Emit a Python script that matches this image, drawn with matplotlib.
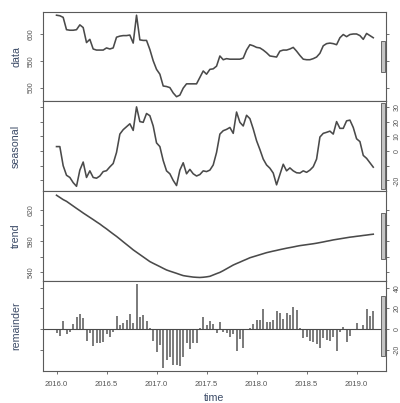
import numpy as np
import matplotlib
matplotlib.use("Agg")
import matplotlib.pyplot as plt
from matplotlib.patches import Rectangle

plt.rcParams['font.family'] = ['Liberation Sans', 'DejaVu Sans']

# ---- data (frequency 30 per year, start 2016.0) ----
start_year = 2016.0
freq = 30

data_vals = [635, 634, 631, 608, 607, 607, 608, 617, 612, 584,
             590, 572, 570, 570, 570, 574, 572, 574, 594, 596,
             597, 597, 598, 583, 635, 589, 588, 588, 571, 550,
             534, 525, 503, 502, 500, 490, 483, 486, 499, 507,
             507, 507, 507, 519, 531, 525, 534, 535, 540, 559,
             552, 554, 553, 553, 553, 553, 555, 570, 580, 578,
             575, 574, 570, 565, 559, 558, 557, 568, 570, 570,
             572, 575, 568, 560, 553, 552, 552, 554, 557, 564,
             578, 582, 583, 582, 580, 593, 599, 595, 599, 600,
             600, 597, 590, 601, 597, 593]

seasonal_vals = [3, 3, -10, -16.5, -18, -21.5, -24, -13, -7.5, -18,
                 -13.5, -18, -18.5, -17, -14, -13.4, -10.8, -8.5, -1, 11.5,
                 14.5, 16.5, 18.5, 14, 30, 20, 19.5, 25.5, 24, 17,
                 5.5, 3, -6.5, -13.5, -15.5, -20, -23.5, -13, -8, -15.5,
                 -12.5, -15.5, -17, -16, -13.5, -14, -13, -9.5, -1, 11.5,
                 13.8, 14.7, 16, 12, 26.5, 19.5, 17, 24.3, 22, 15,
                 7, 1, -5.5, -9.5, -11.7, -15, -23, -16, -9, -13.5,
                 -11.5, -13.5, -14.8, -15, -13.5, -14.5, -13, -10.7, -5.5, 9.5,
                 12, 12.7, 13.5, 11.5, 20, 15.4, 15.4, 20.5, 21, 16,
                 8.3, 6.4, -3, -5, -8, -11]

trend_vals = [638.6, 635.8, 633.0, 630.8, 627.8, 624.8, 621.8, 618.9, 615.9, 613.1,
              610.3, 607.5, 604.6, 601.8, 598.6, 595.6, 592.3, 589.1, 586.0, 582.6,
              579.1, 575.7, 572.3, 568.8, 565.8, 562.8, 559.8, 556.8, 553.8, 551.6,
              549.5, 547.4, 545.2, 543.1, 541.6, 540.2, 538.8, 537.3, 535.9, 535.2,
              534.6, 534.0, 533.7, 533.5, 533.8, 534.3, 535.0, 536.7, 538.4, 540.0,
              542.2, 544.6, 547.0, 549.4, 551.3, 553.1, 555.0, 556.8, 558.7, 560.0,
              561.3, 562.6, 563.9, 565.2, 566.2, 567.2, 568.1, 569.1, 570.0, 570.9,
              571.7, 572.5, 573.4, 574.2, 574.8, 575.4, 576.0, 576.6, 577.3, 578.1,
              578.9, 579.8, 580.6, 581.5, 582.2, 582.9, 583.6, 584.3, 585.0, 585.5,
              586.1, 586.6, 587.2, 587.7, 588.3, 588.8]

remainder_vals = [-4, -7, 8, -5, -3, 4.7, 11.3, 14.3, 10.8, -12,
                  -4, -17, -14, -14, -12.3, -4.5, -7.5, -3, 12.2, 4.1,
                  5.7, 8.5, 14.5, 5.7, 43.5, 11.3, 14, 7.6, 0.5, -12,
                  -22, -15.5, -37.5, -30, -27, -35, -35, -36, -27, -14,
                  -19, -14, -14, 1, 12, 3.5, 8, 5.2, -4.3, 7,
                  -3, -4, -7.8, -4.5, -21, -10, -18.5, -1, 1, 4.8,
                  9.2, 9.2, 19.7, 7.2, 7.1, 8.8, 17, 16, 9.5, 15.2,
                  13.9, 21.8, 18.8, 1, -8.8, -8, -11.3, -12.6, -15, -18.2,
                  -8.5, -11, -12.1, -7.5, -21.8, -2.5, 1.8, -13, -7.2, 0.3,
                  5.5, 0.3, 4.1, 19.4, 13, 17.6]

x_tick_vals = [2016.0, 2016.5, 2017.0, 2017.5, 2018.0, 2018.5, 2019.0]

panel_names = ["data", "seasonal", "trend", "remainder"]
panel_ylims = [(475, 641), (-27.2, 34), (529, 644), (-40.8, 46.6)]
panel_yticks = [[500, 550, 600], [-20, -10, 0, 10, 20, 30],
                [540, 560, 580, 600, 620], [-20, 0, 20, 40]]
panel_ylabels = [["500", "550", "600"], ["-20", "", "0", "10", "20", "30"],
                 ["540", "", "580", "", "620"], ["-20", "0", "20", "40"]]
range_bar_len = 58.0

t = start_year + np.arange(len(data_vals)) / freq
series = [data_vals, seasonal_vals, trend_vals, remainder_vals]

W, H = 400, 403
fig = plt.figure(figsize=(W / 100, H / 100), dpi=100)

left_px, right_px = 43, 385.5
panel_px = [(12, 101), (101, 191), (191, 281), (281, 371)]
xlim = (2015.865, 2019.289)

line_col = "#4a4a4a"
spine_col = "#5a5a5a"
tick_col = "#555555"
label_col = "#3b4a66"

for k, (ytop, ybot) in enumerate(panel_px):
    ax = fig.add_axes([left_px / W, 1 - ybot / H, (right_px - left_px) / W, (ybot - ytop) / H])
    vals = np.asarray(series[k], dtype=float)
    if k < 3:
        ax.plot(t, vals, color=line_col, lw=1.15)
    else:
        ax.vlines(t, 0, vals, color="#707070", lw=1.3)
        ax.axhline(0, color=line_col, lw=0.8)
    ax.set_xlim(*xlim)
    ax.set_ylim(*panel_ylims[k])
    # range bar
    lo, hi = panel_ylims[k]
    mid = (lo + hi) / 2
    ax.add_patch(Rectangle((2019.243, mid - range_bar_len / 2), 0.038, range_bar_len,
                           facecolor="#c4c4c4", edgecolor="#555555", lw=0.6, zorder=3))
    for s in ax.spines.values():
        s.set_color(spine_col)
        s.set_linewidth(0.8)
    ax.set_xticks(x_tick_vals)
    ax.set_xticklabels([f"{v:.1f}" for v in x_tick_vals] if k == 3 else [""] * len(x_tick_vals))
    ax.tick_params(axis="x", direction="out", length=2.5, width=0.6, color=spine_col,
                   labelsize=5.5, labelcolor=tick_col, pad=5)
    ax.set_yticks(panel_yticks[k])
    ax.set_yticklabels(panel_ylabels[k], rotation=90, va="center")
    right = (k % 2 == 1)
    ax.tick_params(axis="y", direction="out", length=2.5, width=0.6, color=spine_col,
                   labelsize=5, labelcolor=tick_col, pad=3.5,
                   left=True, right=True, labelleft=not right, labelright=right)
    fig.text(16 / W, 1 - (ytop + ybot) / 2 / H, panel_names[k], rotation=90,
             ha="center", va="center", fontsize=7.7, color=label_col)

fig.text((left_px + right_px) / 2 / W, 1 - 398 / H, "time", ha="center", va="center",
         fontsize=7.7, color=label_col)

fig.savefig("out.png", dpi=100)
